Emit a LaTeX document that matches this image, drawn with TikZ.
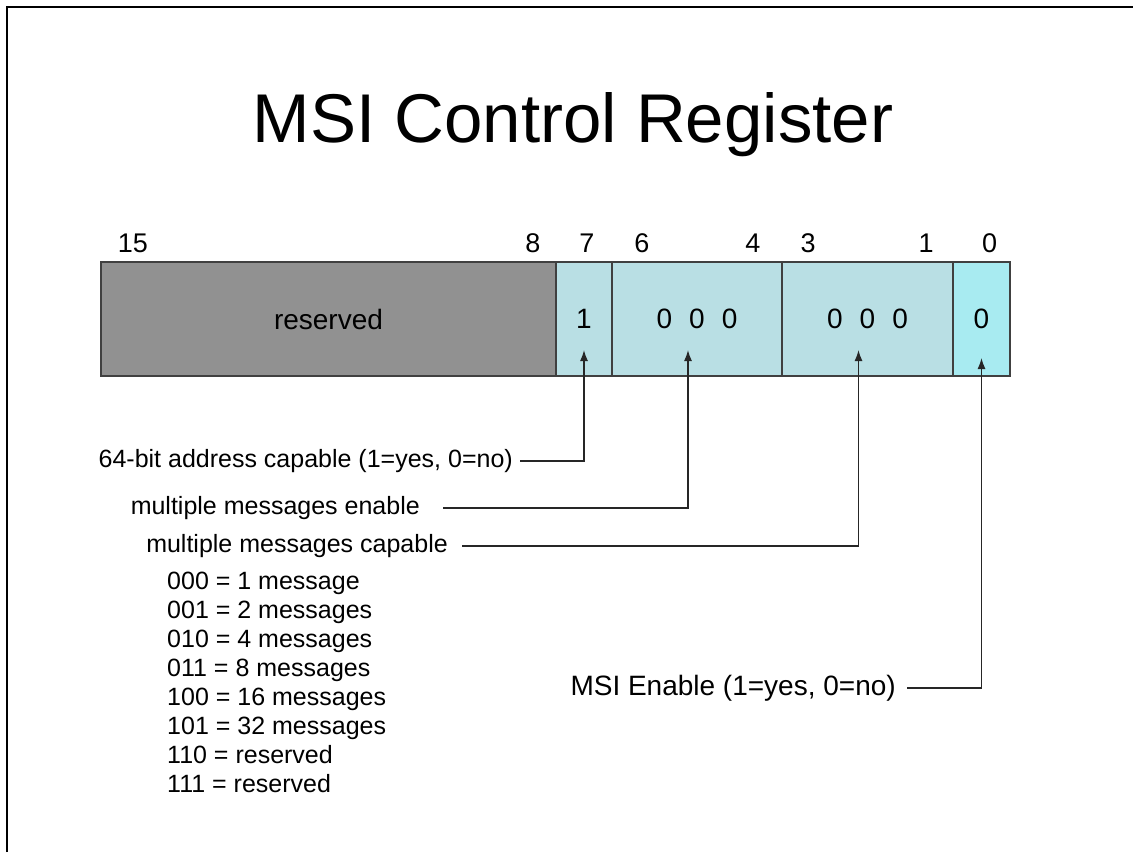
\documentclass[tikz,border=0pt]{standalone}
\usepackage{fontspec}
\setmainfont{Liberation Sans}
\usepackage{xcolor}
\usetikzlibrary{arrows,arrows.meta,positioning}

\definecolor{resgray}{RGB}{145,145,145}
\definecolor{fieldblue}{RGB}{185,223,228}
\definecolor{enblue}{RGB}{168,235,241}
\newcommand{\bitgap}{\hspace{17pt}}

\begin{document}
\begin{tikzpicture}[x=1pt, y=-1pt, node distance=0pt, auto]
\tikzset{
    regcell/.style={rectangle, draw=black!75, line width=1.3pt, outer sep=0pt, minimum height=114pt, inner sep=0pt, text centered, font=\fontsize{28}{32}\selectfont},
    bitnum/.style={anchor=base, inner sep=0pt, font=\fontsize{27}{31}\selectfont},
    myarrow/.style={->, >={Latex[length=11pt, width=8pt]}, line width=1.4pt, draw=black!85},
    mylabel/.style={inner sep=0pt, font=\fontsize{25}{29}\selectfont}
}
\useasboundingbox (0,0) rectangle (1133,852);
\draw[line width=2pt] (7,852) -- (7,7) -- (1133,7);

\node[anchor=base, font=\fontsize{69}{80}\selectfont] (title) at (573,142) {MSI Control Register};

% the register, bit 15 on the left
\node[regcell, fill=resgray, minimum width=455pt, anchor=north west] (rsv) at (101,262) {reserved};
\node[regcell, fill=fieldblue, minimum width=56pt, right=of rsv] (c7) {1};
\node[regcell, fill=fieldblue, minimum width=170pt, right=of c7] (c64) {0\bitgap0\bitgap0};
\node[regcell, fill=fieldblue, minimum width=171pt, right=of c64] (c31) {0\bitgap0\bitgap0};
\node[regcell, fill=enblue, minimum width=57pt, right=of c31] (c0) {0};

% bit numbers over the fields
\node[bitnum] (n15) at ([xshift=32pt, yshift=10pt]rsv.north west) {15};
\node[bitnum] (n8) at ([xshift=-23pt, yshift=10pt]rsv.north east) {8};
\node[bitnum] (n7) at ([xshift=3pt, yshift=10pt]c7.north) {7};
\node[bitnum] (n6) at ([xshift=30pt, yshift=10pt]c64.north west) {6};
\node[bitnum] (n4) at ([xshift=-29pt, yshift=10pt]c64.north east) {4};
\node[bitnum] (n3) at ([xshift=26pt, yshift=10pt]c31.north west) {3};
\node[bitnum] (n1) at ([xshift=-27pt, yshift=10pt]c31.north east) {1};
\node[bitnum] (n0) at ([xshift=8pt, yshift=10pt]c0.north) {0};

% arrow tips inside the fields
\coordinate (t7) at ([yshift=26pt]c7.south);
\coordinate (t64) at ([xshift=-9pt, yshift=26pt]c64.south);
\coordinate (t31) at ([xshift=-9pt, yshift=26pt]c31.south);
\coordinate (t0) at ([yshift=18pt]c0.south);

\node[mylabel, anchor=east] (addr64) at (513,461) {64-bit address capable (1=yes, 0=no)};
\node[mylabel, anchor=east] (mmen) at (420,508) {multiple messages enable};
\node[mylabel, anchor=east] (mmcap) at (448,546) {multiple messages capable};
\node[mylabel, anchor=north west, align=left] (codes) at (167,572) {000 = 1 message\\001 = 2 messages\\010 = 4 messages\\011 = 8 messages\\100 = 16 messages\\101 = 32 messages\\110 = reserved\\111 = reserved};
\node[mylabel, anchor=east, font=\fontsize{28}{32}\selectfont] (msien) at (896,688) {MSI Enable (1=yes, 0=no)};

\draw[myarrow, shorten <=7pt] (addr64) -| (t7);
\draw[myarrow, shorten <=23pt] (mmen) -| (t64);
\draw[myarrow, shorten <=14pt] (mmcap) -| (t31);
\draw[myarrow, shorten <=11pt] (msien) -| (t0);
\end{tikzpicture}
\end{document}
